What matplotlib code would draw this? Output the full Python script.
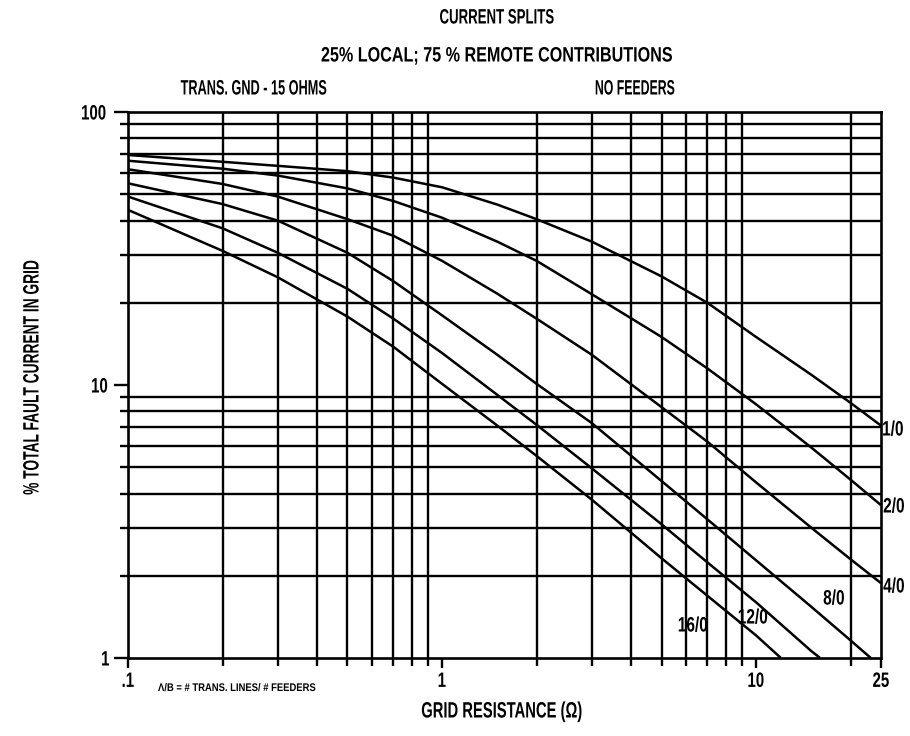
import numpy as np
import matplotlib.pyplot as plt
from matplotlib.ticker import FixedLocator, FixedFormatter, NullFormatter
from matplotlib.patheffects import AbstractPathEffect
from matplotlib.transforms import Affine2D

# values: grid resistance (ohm) -> % total fault current in grid
r_1_0 = [0.1, 0.2, 0.3, 0.5, 0.7, 1, 1.5, 2, 3, 5, 7, 10, 15, 20, 25]
pct_1_0 = [69.6, 65.7, 63.5, 60.7, 57.5, 53, 45.8, 40.5, 33.5, 25, 20, 15, 10.9, 8.6, 7.1]

r_2_0 = [0.1, 0.2, 0.3, 0.5, 0.7, 1, 1.5, 2, 3, 5, 7, 10, 15, 20, 25]
pct_2_0 = [66.3, 62, 58.5, 52.5, 47.2, 41, 33.5, 28.5, 21.5, 15, 11.5, 8.5, 5.9, 4.5, 3.63]

r_4_0 = [0.1, 0.2, 0.3, 0.5, 0.7, 1, 1.5, 2, 3, 5, 7, 10, 15, 20, 25]
pct_4_0 = [61.7, 54.5, 49, 40.5, 35.2, 28.5, 21.6, 17.5, 12.9, 8.3, 6.2, 4.4, 3.0, 2.3, 1.88]

r_8_0 = [0.1, 0.2, 0.3, 0.5, 0.7, 1, 1.5, 2, 3, 5, 7, 10, 15, 20, 23.2]
pct_8_0 = [54.8, 46, 40, 30.5, 24, 18, 12.9, 10.1, 7.25, 4.45, 3.22, 2.28, 1.54, 1.16, 1.0]

r_12_0 = [0.1, 0.2, 0.3, 0.5, 0.7, 1, 1.5, 2, 3, 5, 7, 10, 15, 16]
pct_12_0 = [49, 37.5, 30.5, 22.5, 17.5, 13.1, 9.2, 7.15, 4.95, 3.09, 2.24, 1.6, 1.06, 1.0]

r_16_0 = [0.1, 0.2, 0.3, 0.5, 0.7, 1, 1.5, 2, 3, 5, 7, 10, 12]
pct_16_0 = [43.8, 31, 24.8, 17.8, 13.8, 10.1, 7.1, 5.5, 3.8, 2.32, 1.69, 1.21, 1.0]

x_major = [0.1, 1, 10, 25]
x_major_labels = ['.1', '1', '10', '25']
x_minor = [0.2, 0.3, 0.4, 0.5, 0.6, 0.7, 0.8, 0.9, 2, 3, 4, 5, 6, 7, 8, 9, 20]
y_major = [1, 10, 100]
y_major_labels = ['1', '10', '100']
y_minor = [2, 3, 4, 5, 6, 7, 8, 9, 20, 30, 40, 50, 60, 70, 80, 90]


class Squeeze(AbstractPathEffect):
    # narrow the text about its own centre, to mimic the condensed plotter lettering
    def __init__(self, sx=1.0, sy=1.0):
        super().__init__()
        self.sx = sx
        self.sy = sy

    def draw_path(self, renderer, gc, tpath, affine, rgbFace=None):
        pts = affine.transform(tpath.vertices)
        cx = (pts[:, 0].min() + pts[:, 0].max()) / 2
        cy = (pts[:, 1].min() + pts[:, 1].max()) / 2
        t = affine + Affine2D().translate(-cx, -cy).scale(self.sx, self.sy).translate(cx, cy)
        renderer.draw_path(gc, tpath, t, rgbFace)


def main():
    plt.rcParams['font.family'] = ['Liberation Sans', 'DejaVu Sans']
    W, H = 910, 736
    fig = plt.figure(figsize=(W / 100, H / 100), dpi=100)
    ax = fig.add_axes([128 / W, 1 - 658 / H, (881 - 128) / W, (658 - 112) / H])

    curves = [(r_1_0, pct_1_0), (r_2_0, pct_2_0), (r_4_0, pct_4_0),
              (r_8_0, pct_8_0), (r_12_0, pct_12_0), (r_16_0, pct_16_0)]
    for r, p in curves:
        ax.plot(r, p, color='black', lw=1.8, solid_capstyle='butt')

    ax.set_xscale('log')
    ax.set_yscale('log')
    ax.set_xlim(0.1, 25)
    ax.set_ylim(1, 100)

    ax.xaxis.set_major_locator(FixedLocator(x_major))
    ax.xaxis.set_major_formatter(FixedFormatter(x_major_labels))
    ax.xaxis.set_minor_locator(FixedLocator(x_minor))
    ax.xaxis.set_minor_formatter(NullFormatter())
    ax.yaxis.set_major_locator(FixedLocator(y_major))
    ax.yaxis.set_major_formatter(FixedFormatter(y_major_labels))
    ax.yaxis.set_minor_locator(FixedLocator(y_minor))
    ax.yaxis.set_minor_formatter(NullFormatter())

    ax.grid(which='minor', color='black', lw=1.7)
    ax.grid(which='major', visible=False)
    for s in ax.spines.values():
        s.set_linewidth(1.9)
    ax.tick_params(which='minor', length=6, width=1.7, color='black')
    ax.tick_params(axis='x', which='major', length=7, width=1.7, pad=3, labelsize=15)
    ax.tick_params(axis='y', which='major', length=10, width=1.7, pad=2, labelsize=15)
    for t in ax.get_xticklabels() + ax.get_yticklabels():
        t.set_fontweight('bold')
        t.set_path_effects([Squeeze(0.72)])

    def ftext(x, y, s, sx, rot=0, **kw):
        if rot:
            eff = [Squeeze(1.0, sx)]
        else:
            eff = [Squeeze(sx)]
        fig.text(x / W, 1 - y / H, s, ha='center', va='center', rotation=rot,
                 fontweight='bold', path_effects=eff, **kw)

    # curve labels
    ftext(893, 430, '1/0', 0.74, fontsize=15)
    ftext(894, 507, '2/0', 0.74, fontsize=15)
    ftext(894, 587, '4/0', 0.74, fontsize=15)
    ftext(834, 599, '8/0', 0.74, fontsize=15)
    ftext(753, 618, '12/0', 0.74, fontsize=15)
    ftext(693, 626, '16/0', 0.74, fontsize=15)

    ftext(497, 18, 'CURRENT SPLITS', 0.635, fontsize=15)
    ftext(497, 56, '25% LOCAL; 75 % REMOTE CONTRIBUTIONS', 0.775, fontsize=15)
    ftext(254, 89, 'TRANS. GND - 15 OHMS', 0.61, fontsize=15)
    ftext(635, 89, 'NO FEEDERS', 0.59, fontsize=15)
    ftext(237, 688, 'Λ/B = # TRANS. LINES/ # FEEDERS', 0.85, fontsize=8)
    ftext(502, 712, 'GRID RESISTANCE (Ω)', 0.665, fontsize=16)
    ftext(33, 377, '% TOTAL FAULT CURRENT IN GRID', 0.62, rot=90, fontsize=16)

    fig.savefig('out.png', dpi=100)
    plt.close(fig)


if __name__ == "__main__":
    main()
